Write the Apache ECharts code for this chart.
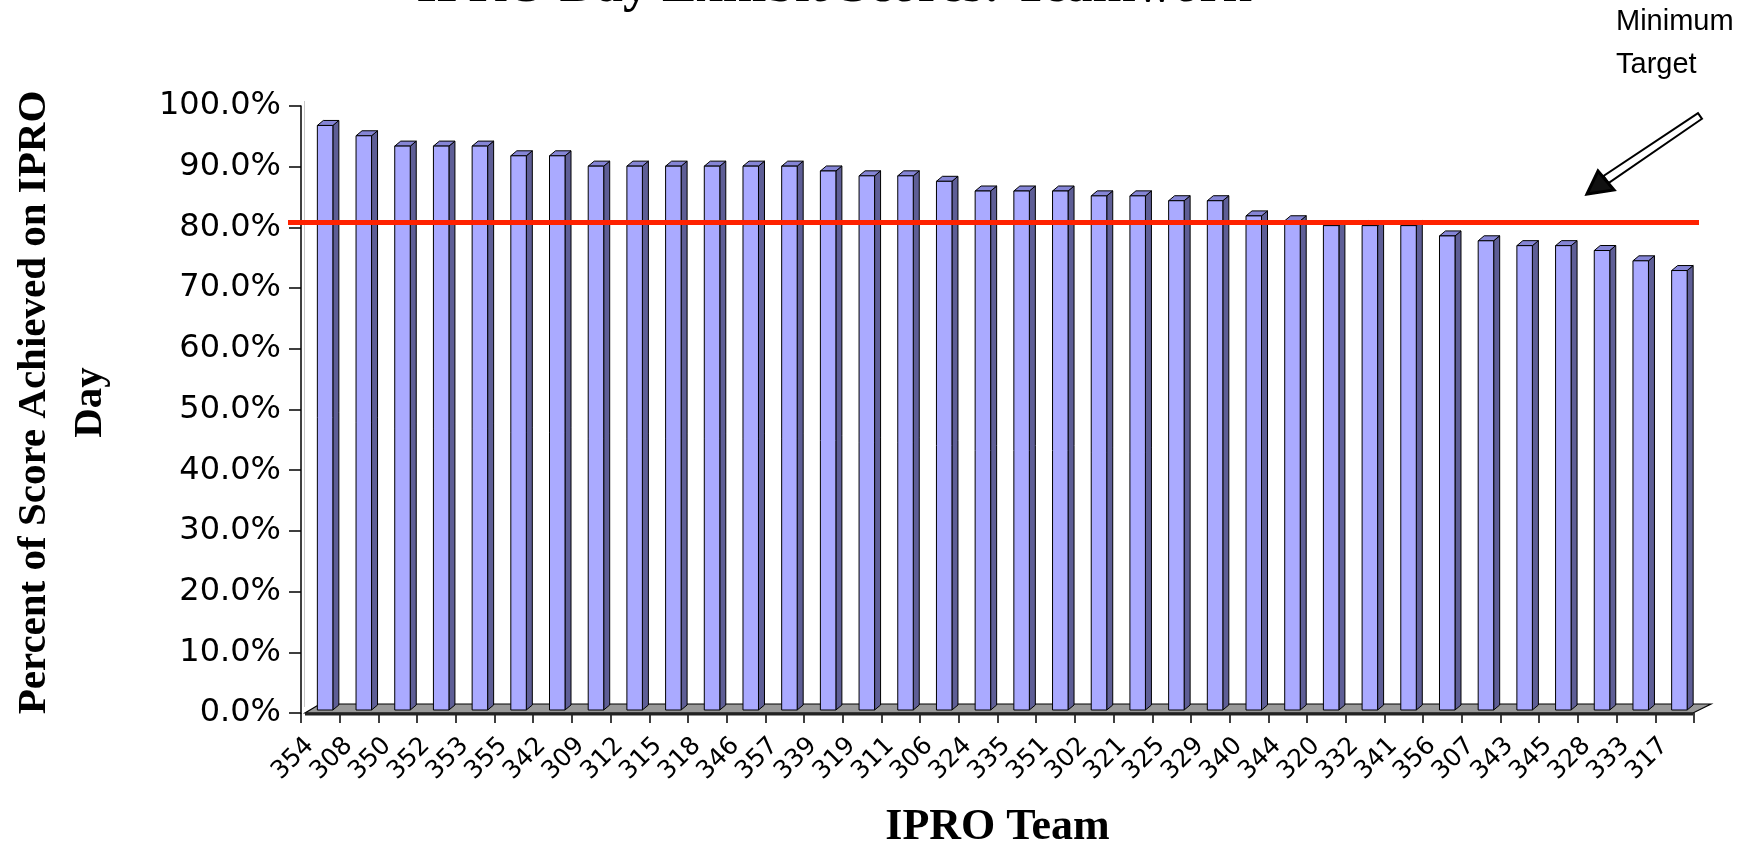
<!DOCTYPE html>
<html>
<head>
<meta charset="utf-8">
<script src="https://cdn.jsdelivr.net/npm/echarts@6/dist/echarts.min.js"></script>
<style>
html,body{margin:0;padding:0;background:#fff;}
#chart{width:1762px;height:845px;}
</style>
</head>
<body>
<div id="chart"></div>
<script>
// ---- data ----
const teams = ['354','308','350','352','353','355','342','309','312','315','318','346','357','339','319','311','306','324','335','351','302','321','325','329','340','344','320','332','341','356','307','343','345','328','333','317'];
const scores = [96.3,94.6,92.9,92.9,92.9,91.3,91.3,89.6,89.6,89.6,89.6,89.6,89.6,88.8,88.0,88.0,87.1,85.5,85.5,85.5,84.7,84.7,83.9,83.9,81.4,80.6,79.8,79.8,79.8,78.1,77.3,76.5,76.5,75.7,74.0,72.4];
const targetScore = [80];
const yMin = 0, yMax = 100, yStep = 10;
const chartTitle = 'IPRO Day Exhibit Scores: Teamwork';
const yTitle = 'Percent of Score Achieved on IPRO\nDay';
const xTitle = 'IPRO Team';
const noteText = 'Minimum\nTarget';

// ---- layout / style ----
const G = {left: 301, right: 68, top: 106, bottom: 132};
const W = 1762, H = 845;
const GL = G.left, GR = W - G.right, GB = H - G.bottom;
const FRONT = '#AAAAFF', SIDE = '#5E5E96', TOPC = '#8585D6';
const LIFT = -3;           // bar base sits slightly behind the front floor edge
const DX = 6, DY = -5;     // 3D depth of bars

const chart = echarts.init(document.getElementById('chart'), null, {renderer: 'canvas'});

const barData = scores.map((v, i) => [i, v]);

function renderBar(params, api) {
  const top = api.coord([api.value(0), api.value(1)]);
  const base = api.coord([api.value(0), 0]);
  const cx = top[0];
  const yT = top[1] + LIFT, yB = base[1] + LIFT;
  const fl = cx - 3, fr = cx + 12.5;
  return {
    type: 'group',
    children: [
      {type: 'polygon', shape: {points: [[fr, yB], [fr + DX, yB + DY], [fr + DX, yT + DY], [fr, yT]]},
        style: {fill: SIDE, stroke: '#000', lineWidth: 1}},
      {type: 'polygon', shape: {points: [[fl, yT], [fr, yT], [fr + DX, yT + DY], [fl + DX, yT + DY]]},
        style: {fill: TOPC, stroke: '#000', lineWidth: 1}},
      {type: 'rect', shape: {x: fl, y: yT, width: fr - fl, height: yB - yT},
        style: {fill: FRONT, stroke: '#000', lineWidth: 1}}
    ]
  };
}

function renderTarget(params, api) {
  const p = api.coord([0, api.value(1)]);
  const y = p[1] - 5;
  return {
    type: 'line',
    shape: {x1: GL - 13, y1: y, x2: GR + 5, y2: y},
    style: {stroke: '#FF2200', lineWidth: 5}
  };
}

// arrow geometry (annotation)
const tip = [1587, 194], hc1 = [1598, 171], hc2 = [1614, 190];
const tail = [1700, 116];

const option = {
  backgroundColor: '#ffffff',
  animation: false,
  grid: {left: G.left, right: G.right, top: G.top, bottom: G.bottom, containLabel: false, outerBoundsMode: 'none'},
  xAxis: [
    {type: 'category', data: teams, boundaryGap: true, show: false, gridIndex: 0},
    {
      type: 'category', gridIndex: 0, position: 'bottom', offset: 0,
      data: teams.concat(['']), boundaryGap: false,
      axisLine: {show: false},
      axisTick: {show: true, interval: 0, length: 10, lineStyle: {color: '#000', width: 1.5}},
      axisLabel: {interval: 0, rotate: 45, margin: 20, verticalAlign: 'top', color: '#000', fontSize: 25, fontFamily: 'DejaVu Sans'},
      splitLine: {show: false},
      name: xTitle, nameLocation: 'middle', nameGap: 93,
      nameTextStyle: {fontFamily: 'Liberation Serif', fontWeight: 'bold', fontSize: 44, color: '#000'}
    }
  ],
  yAxis: {
    type: 'value', min: yMin, max: yMax, interval: yStep,
    axisLine: {show: true, lineStyle: {color: '#000', width: 1.5}},
    axisTick: {show: true, length: 12, lineStyle: {color: '#000', width: 1.5}},
    axisLabel: {margin: 20, color: '#000', fontSize: 32, fontFamily: 'DejaVu Sans',
      formatter: v => v.toFixed(1) + '%'},
    splitLine: {show: false},
    name: yTitle, nameLocation: 'middle', nameGap: 183, nameRotate: 90,
    nameTextStyle: {fontFamily: 'Liberation Serif', fontWeight: 'bold', fontSize: 41, lineHeight: 56, color: '#000', align: 'center',
      padding: [0, 0, 0, 14]}
  },
  series: [
    {type: 'custom', xAxisIndex: 0, yAxisIndex: 0, data: barData, renderItem: renderBar,
      encode: {x: 0, y: 1}, z: 3, clip: false},
    {type: 'custom', xAxisIndex: 0, yAxisIndex: 0, data: targetScore.map(v => [0, v]), renderItem: renderTarget,
      encode: {x: 0, y: 1}, z: 6, clip: false}
  ],
  graphic: [
    // floor
    {type: 'polygon', z: 1, shape: {points: [[GL + 4, GB], [GR - 1, GB], [GR + 17, GB - 9], [GL + 19, GB - 9]]},
      style: {fill: '#999999', stroke: '#000', lineWidth: 1.2}},
    {type: 'line', z: 1, shape: {x1: GL + 4, y1: GB + 1, x2: GR - 1, y2: GB + 1}, style: {stroke: '#222', lineWidth: 3}},
    // back wall edge
    {type: 'line', z: 0, shape: {x1: GL + 3.5, y1: G.top - 5, x2: GL + 3.5, y2: GB - 6}, style: {stroke: '#c8c8c8', lineWidth: 1}},
    // chart title (clipped at top)
    {type: 'text', z: 10, style: {text: chartTitle, x: 834, y: -12, align: 'center', verticalAlign: 'middle',
      font: 'bold 52px "Liberation Serif"', fill: '#000'}},
    // annotation
    {type: 'text', z: 10, style: {text: noteText, x: 1616, y: 0, verticalAlign: 'top', lineHeight: 43,
      font: '29px "Liberation Sans"', fill: '#000'}},
    {type: 'polygon', z: 10, shape: {points: [
        [tail[0] + 2, tail[1] + 2.8], [1608.5, 183], [1603.5, 176], [tail[0] - 2, tail[1] - 2.8]]},
      style: {fill: '#fff', stroke: '#000', lineWidth: 2}},
    {type: 'polygon', z: 11, shape: {points: [tip, hc1, hc2]},
      style: {fill: '#111', stroke: '#000', lineWidth: 3, lineJoin: 'miter'}}
  ]
};

chart.setOption(option);
</script>
</body>
</html>
